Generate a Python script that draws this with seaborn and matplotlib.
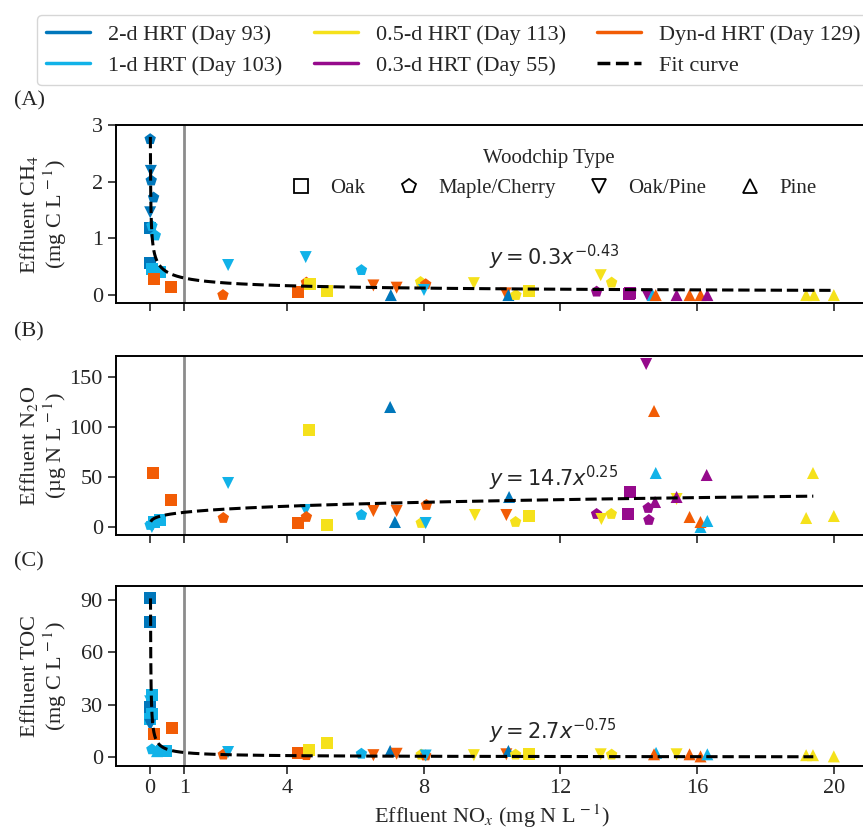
import numpy as np
import pandas as pd
import matplotlib.pyplot as plt
from matplotlib.lines import Line2D
import seaborn as sns

sns.set_style('ticks')
plt.rcParams['font.family'] = ['Liberation Serif', 'DejaVu Sans']
plt.rcParams['mathtext.fontset'] = 'stix'
plt.rcParams['axes.edgecolor'] = 'black'

# HRT groups and woodchip types
hrt_keys = ['2d', '1d', '05d', '03d', 'dyn']
hrt_labels = ['2-d HRT (Day 93)', '1-d HRT (Day 103)', '0.5-d HRT (Day 113)',
              '0.3-d HRT (Day 55)', 'Dyn-d HRT (Day 129)']
hrt_colors = ['#0077BB', '#11B2E8', '#F5E11B', '#960A8C', '#F25C05']
wood_keys = ['O', 'M', 'OP', 'P']
wood_labels = ['Oak', 'Maple/Cherry', 'Oak/Pine', 'Pine']
wood_markers = ['s', 'p', 'v', '^']

# panel A - CH4
ch4_x = [0.0, 0.02, 0.03, 0.1, 0.0, 0.0, 0.05, 0.15, 0.0, 0.05, 0.3, 0.1, 0.6,
         2.13, 2.28, 4.33, 4.55, 4.57, 4.67, 5.16, 6.18, 6.53, 7.04, 7.21, 7.91, 8.06, 8.01,
         9.47, 10.4, 10.48, 10.7, 11.08, 13.06, 13.18, 13.5, 14.0, 14.05, 14.54, 14.7,
         14.79, 15.4, 15.78, 16.1, 16.3, 19.19, 19.42, 20.0]
ch4_y = [2.75, 2.19, 2.02, 1.72, 1.46, 1.19, 1.22, 1.05, 0.56, 0.46, 0.40, 0.29, 0.14,
         0.0, 0.53, 0.06, 0.67, 0.22, 0.2, 0.07, 0.44, 0.17, 0.0, 0.13, 0.23, 0.19, 0.09,
         0.21, 0.03, 0.0, 0.0, 0.07, 0.06, 0.35, 0.22, 0.02, 0.03, 0.0, 0.0,
         0.0, 0.0, 0.0, 0.0, 0.0, 0.0, 0.0, 0.0]
ch4_hrt = ['2d', '2d', '2d', '2d', '2d', '2d', '1d', '1d', '2d', '1d', '1d', 'dyn', 'dyn',
           'dyn', '1d', 'dyn', '1d', 'dyn', '05d', '05d', '1d', 'dyn', '2d', 'dyn', '05d', 'dyn', '1d',
           '05d', 'dyn', '2d', '05d', '05d', '03d', '05d', '05d', '03d', '03d', '03d', '1d',
           'dyn', '03d', 'dyn', 'dyn', '03d', '05d', '05d', '05d']
ch4_wood = ['M', 'OP', 'M', 'M', 'OP', 'O', 'M', 'M', 'O', 'O', 'O', 'O', 'O',
            'M', 'OP', 'O', 'OP', 'M', 'O', 'O', 'M', 'OP', 'P', 'OP', 'M', 'M', 'OP',
            'OP', 'OP', 'P', 'M', 'O', 'M', 'OP', 'M', 'O', 'O', 'OP', 'P',
            'P', 'P', 'P', 'P', 'P', 'P', 'P', 'P']

# panel B - N2O
n2o_x = [0.0, 0.1, 0.3, 0.05, 0.07, 0.6,
         2.14, 2.28, 4.33, 4.55, 4.57, 4.65, 5.16, 6.18, 6.53, 7.02, 7.16, 7.21, 7.93, 8.06, 8.08,
         9.5, 10.42, 10.5, 10.69, 11.08, 13.06, 13.2, 13.49, 13.98, 14.05, 14.51, 14.57, 14.59,
         14.77, 14.74, 14.79, 15.4, 15.4, 15.78, 16.1, 16.1, 16.3, 16.28, 19.19, 19.39, 20.0]
n2o_y = [2, 5, 7, 0, 54, 27,
         9, 44, 4, 17, 10, 97, 2, 12, 16, 120, 5, 16, 4, 4, 22,
         12, 12, 30, 5, 11, 13, 8, 13, 13, 35, 163, 19, 7,
         25, 116, 54, 28, 30, 10, 0, 5, 6, 52, 9, 54, 11]
n2o_hrt = ['1d', '1d', '1d', '1d', 'dyn', 'dyn',
           'dyn', '1d', 'dyn', '1d', 'dyn', '05d', '05d', '1d', 'dyn', '2d', '2d', 'dyn', '05d', '1d', 'dyn',
           '05d', 'dyn', '2d', '05d', '05d', '03d', '05d', '05d', '03d', '03d', '03d', '03d', '03d',
           '03d', 'dyn', '1d', '05d', '03d', 'dyn', '1d', 'dyn', '1d', '03d', '05d', '05d', '05d']
n2o_wood = ['M', 'O', 'O', 'OP', 'O', 'O',
            'M', 'OP', 'O', 'OP', 'M', 'O', 'O', 'M', 'OP', 'P', 'P', 'OP', 'M', 'OP', 'M',
            'OP', 'OP', 'P', 'M', 'O', 'M', 'OP', 'M', 'O', 'O', 'OP', 'M', 'M',
            'P', 'P', 'P', 'OP', 'P', 'P', 'P', 'P', 'P', 'P', 'P', 'P', 'P']

# panel C - TOC
toc_x = [0.0, 0.0, 0.05, 0.0, 0.0, 0.05, 0.0, 0.0, 0.1, 0.63, 0.05, 0.2, 0.35, 0.45,
         2.14, 2.28, 4.33, 4.57, 4.65, 5.16, 6.18, 6.53, 7.02, 7.21, 7.93, 8.06, 8.06,
         9.47, 10.42, 10.48, 10.69, 11.08, 13.18, 13.5, 14.8, 14.74, 15.4, 15.78, 16.1,
         16.3, 19.19, 19.39, 20.0]
toc_y = [91, 77.5, 35.5, 32, 29, 25, 22, 18.5, 13.2, 16.6, 4.5, 3.5, 3.5, 3.5,
         1.5, 3, 2.7, 1.2, 4, 8.2, 2, 1.2, 3.6, 2, 1.5, 1, 1,
         1.2, 1.7, 3.6, 1.5, 2, 1.7, 1.5, 2.5, 1.7, 1.7, 1.7, 0.5,
         1.7, 1.2, 1.2, 0.5]
toc_hrt = ['2d', '2d', '1d', '1d', '2d', '1d', '1d', '2d', 'dyn', 'dyn', '1d', '1d', '1d', '1d',
           'dyn', '1d', 'dyn', 'dyn', '05d', '05d', '1d', 'dyn', '2d', 'dyn', '05d', 'dyn', '1d',
           '05d', 'dyn', '2d', '05d', '05d', '05d', '05d', '1d', 'dyn', '05d', 'dyn', 'dyn',
           '1d', '05d', '05d', '05d']
toc_wood = ['O', 'O', 'O', 'OP', 'O', 'O', 'O', 'OP', 'O', 'O', 'M', 'P', 'O', 'O',
            'M', 'OP', 'O', 'M', 'O', 'O', 'M', 'OP', 'P', 'OP', 'M', 'M', 'OP',
            'OP', 'OP', 'P', 'M', 'O', 'OP', 'M', 'P', 'P', 'OP', 'P', 'P',
            'P', 'P', 'P', 'P']

# power-law fits y = a * x^b
fit_a = [0.3, 14.7, 2.7]
fit_b = [-0.43, 0.25, -0.75]
fit_xmin = [0.0056, 0.015, 0.0092]
fit_xmax = [20.0, 19.4, 19.4]
fit_text = ['$y = 0.3x^{-0.43}$', '$y = 14.7x^{0.25}$', '$y = 2.7x^{-0.75}$']
fit_text_y = [0.67, 49, 15]

ylabels = ['Effluent CH$_4$\n(mg C L$^{\\,-1}$)', 'Effluent N$_2$O\n(µg N L$^{\\,-1}$)',
           'Effluent TOC\n(mg C L$^{\\,-1}$)']
yticks = [[0, 1, 2, 3], [0, 50, 100, 150], [0, 30, 60, 90]]
ylims = [(-0.14, 3.0), (-8, 171), (-5, 98)]
xticks = [0, 1, 4, 8, 12, 16, 20]
panel_tags = ['(A)', '(B)', '(C)']

palette = dict(zip(hrt_keys, hrt_colors))
markers = dict(zip(wood_keys, wood_markers))

frames = [
    pd.DataFrame({'x': ch4_x, 'y': ch4_y, 'hrt': ch4_hrt, 'wood': ch4_wood}),
    pd.DataFrame({'x': n2o_x, 'y': n2o_y, 'hrt': n2o_hrt, 'wood': n2o_wood}),
    pd.DataFrame({'x': toc_x, 'y': toc_y, 'hrt': toc_hrt, 'wood': toc_wood}),
]

fig = plt.figure(figsize=(8.63, 8.32), dpi=100)
W, H = 863, 832
boxes = [(125, 303), (356, 535), (586, 766)]
axes = []
for i, (top, bot) in enumerate(boxes):
    ax = fig.add_axes([116 / W, 1 - bot / H, 752 / W, (bot - top) / H])
    axes.append(ax)

for i, ax in enumerate(axes):
    df = frames[i]
    ax.axvline(1, color='#8c8c8c', lw=2, zorder=0)
    sns.scatterplot(data=df, x='x', y='y', hue='hrt', style='wood', palette=palette,
                    markers=markers, s=75, linewidth=0, legend=False, ax=ax, zorder=2)
    xf = np.geomspace(fit_xmin[i], fit_xmax[i], 400)
    ax.plot(xf, fit_a[i] * xf ** fit_b[i], color='black', ls='--', lw=2.2, zorder=3)
    ax.text(9.9, fit_text_y[i], fit_text[i], fontsize=15, ha='left', va='center',
            family='DejaVu Sans', math_fontfamily='dejavusans')
    ax.set_xlim(-1, 21)
    ax.set_ylim(*ylims[i])
    ax.set_xticks(xticks)
    ax.set_yticks(yticks[i])
    ax.set_ylabel(ylabels[i], fontsize=16, linespacing=1.1)
    ax.yaxis.set_label_coords(-0.062, 0.5)
    ax.set_xlabel('')
    ax.tick_params(labelsize=16, length=6, width=1.2, direction='out')
    if i < 2:
        ax.set_xticklabels([])
    for sp in ax.spines.values():
        sp.set_linewidth(1.4)
    fig.text(14 / W, 1 - (boxes[i][0] - 24) / H, panel_tags[i], fontsize=16, va='center')

axes[2].set_xlabel('Effluent NO$_x$ (mg N L$^{\\,-1}$)', fontsize=16, labelpad=3)

# woodchip legend (panel A)
wood_handles = [Line2D([], [], marker=m, ls='None', mfc='none', mec='black', mew=1.3, ms=10)
                for m in wood_markers]
axes[0].legend(wood_handles, wood_labels, title='Woodchip Type', ncol=4,
               loc='upper center', bbox_to_anchor=(0.575, 0.97), frameon=False,
               fontsize=15, title_fontsize=15, handletextpad=0.4, columnspacing=1.1)

# HRT legend at top
line_handles = [Line2D([], [], color=c, lw=2.5) for c in hrt_colors]
line_handles.append(Line2D([], [], color='black', lw=2.5, ls='--'))
line_labels = hrt_labels + ['Fit curve']
fig.legend(line_handles, line_labels, ncol=3,
           loc='upper left', bbox_to_anchor=(26 / W, 1 - 4 / H), fontsize=16,
           frameon=True, fancybox=True, edgecolor='#cccccc', handlelength=2.0,
           columnspacing=1.4, labelspacing=0.5)

fig.savefig('out.png', dpi=100)
